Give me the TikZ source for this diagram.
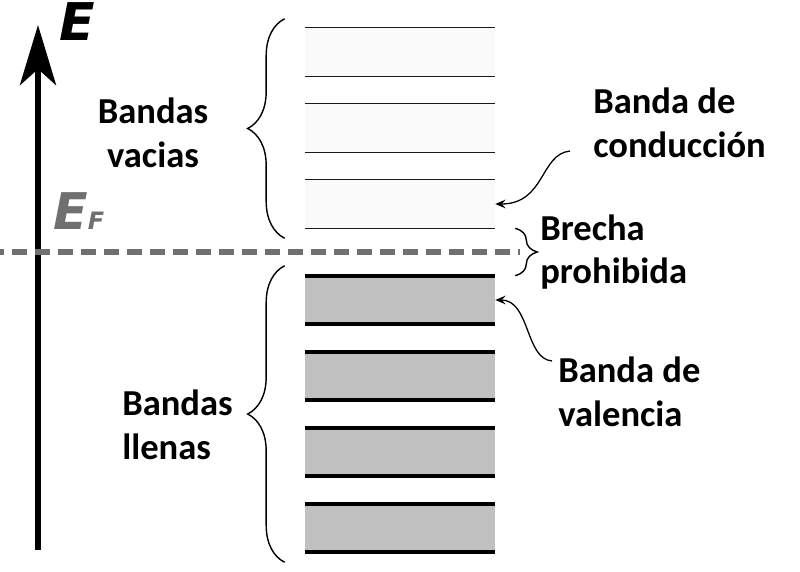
\documentclass[tikz,border=0pt]{standalone}
\usepackage{fontspec}
\setmainfont{Carlito}
\newfontfamily\efont{DejaVu Sans}
\usetikzlibrary{arrows.meta,positioning,decorations.pathreplacing}
\definecolor{emptyfill}{RGB}{250,250,250}
\definecolor{fullfill}{RGB}{192,192,192}
\definecolor{fermigray}{RGB}{112,112,112}

\begin{document}
\begin{tikzpicture}[
  x=0.025cm, y=-0.025cm,
  lab/.style={font=\bfseries\fontsize{26}{31}\selectfont, inner sep=0pt},
  emptyband/.style={fill=emptyfill, minimum width=4.75cm, minimum height=1.2cm, inner sep=0pt},
  fullband/.style={fill=fullfill, minimum width=4.75cm, minimum height=1.2cm, inner sep=0pt},
  thinedge/.style={line width=1.1pt, black!90},
  thickedge/.style={line width=2.8pt},
  brace/.style={decorate, decoration={brace, amplitude=#1}, line width=1pt},
  arr/.style={-{Stealth[length=2.6mm, width=2.2mm, inset=1mm]}, line width=0.9pt},
  fermi/.style={line width=4.6pt, fermigray, dash pattern=on 0.375cm off 0.2cm, dash phase=0.275cm}
]
\useasboundingbox (0,0) rectangle (800,571);

% ---- Energy axis ----
\coordinate (axisbot) at (38,550);
\coordinate (axistop) at (38,25);
\draw[line width=4.4pt, -{Stealth[length=1.5cm, width=0.9cm, inset=0.4cm]}] (axisbot) -- (axistop);
\node[inner sep=0pt, font=\efont\bfseries\itshape\fontsize{37}{37}\selectfont] (elab) at (77,22) {E};

% ---- Empty bands (top) ----
\foreach \n/\y in {c1/52,c2/128,c3/204}{
  \node[emptyband] (\n) at (400,\y) {};
  \draw[thinedge] (\n.north west) -- (\n.north east) (\n.south west) -- (\n.south east);
}

% ---- Filled bands (bottom) ----
\foreach \n/\y in {v1/300,v2/376,v3/452,v4/528}{
  \node[fullband] (\n) at (400,\y) {};
  \draw[thickedge] (\n.north west) -- (\n.north east) (\n.south west) -- (\n.south east);
}

% ---- Fermi level ----
\draw[fermi] (0,252) -- (520,252);
\node[inner sep=0pt, anchor=base west, text=fermigray, font=\efont\bfseries\itshape\fontsize{36}{36}\selectfont] (ef) at (53,229)
  {E\fontsize{17}{17}\selectfont F};

% ---- Braces ----
\draw[brace=0.925cm] ([xshift=-0.5cm, yshift=-0.25cm]c3.south west) -- ([xshift=-0.5cm, yshift=0.225cm]c1.north west);
\draw[brace=0.925cm] ([xshift=-0.5cm, yshift=-0.25cm]v4.south west) -- ([xshift=-0.5cm, yshift=0.25cm]v1.north west);
\draw[brace=0.55cm] ([xshift=0.5cm]c3.south east) -- ([xshift=0.5cm]v1.north east);

% ---- Labels ----
\node[lab, align=center] (vacias) at (153,133) {Bandas\\vacias};
\node[lab, align=left, anchor=west] (llenas) at (122,425) {Bandas\\llenas};
\node[lab, align=left, anchor=west] (cond) at (593,123) {Banda de\\conducción};
\node[lab, align=left, anchor=west] (gap) at (540,252) {Brecha\\prohibida};
\node[lab, align=left, anchor=west] (val) at (558,392) {Banda de\\valencia};

% ---- Pointers ----
\draw[arr] ([xshift=-0.575cm, yshift=0.175cm]cond.south west) .. controls +(-30,3) and +(50,0) .. (c3.east);
\draw[arr] ([xshift=-0.15cm, yshift=-0.1cm]val.north west) .. controls +(-27,-2) and +(35,0) .. (v1.east);

\end{tikzpicture}
\end{document}
